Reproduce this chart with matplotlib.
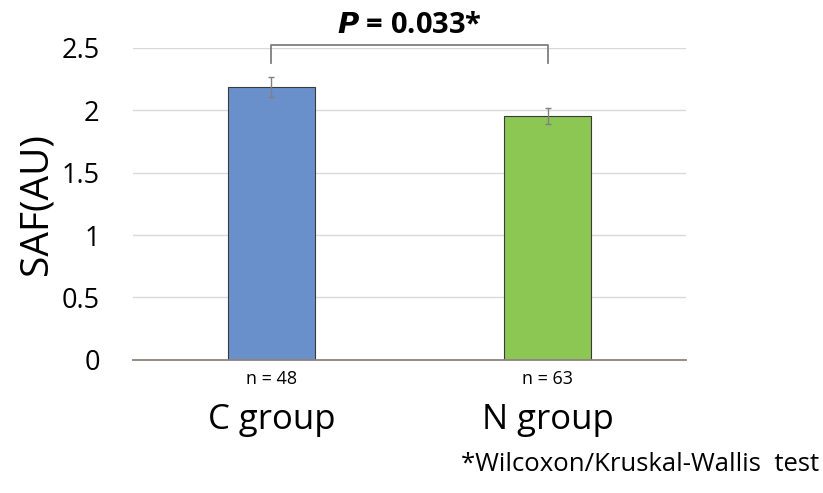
import matplotlib
matplotlib.use("Agg")
import matplotlib.pyplot as plt

# data
groups = ["C group", "N group"]
saf_mean = [2.19, 1.955]
saf_err = [0.08, 0.065]
n_labels = ["n = 48", "n = 63"]
p_label = "$\\boldsymbol{P}$ = 0.033*"
colors = ["#6a90cc", "#8cc653"]

plt.rcParams['font.family'] = ['Open Sans', 'DejaVu Sans']

fig = plt.figure(figsize=(8.23, 4.93), dpi=100)
ax = fig.add_axes([0.1616, 0.27, 0.672, 0.633])

x = list(range(len(groups)))
ax.bar(x, saf_mean, width=0.315, color=colors, edgecolor="#3a3a3a",
       linewidth=0.8, zorder=3)
ax.errorbar(x, saf_mean, yerr=saf_err, fmt="none", ecolor="#808080",
            elinewidth=1, capsize=2.5, capthick=1, zorder=4)

ax.set_xlim(-0.5, 1.5)
ax.set_ylim(0, 2.5)
ax.set_yticks([0, 0.5, 1, 1.5, 2, 2.5])
ax.set_yticklabels(["0", "0.5", "1", "1.5", "2", "2.5"])
ax.yaxis.grid(True, color="#d9d9d9", linewidth=1, zorder=0)
ax.tick_params(axis="y", length=0, pad=24, labelsize=19.5)
ax.set_xticks([])
for s in ["top", "right", "left"]:
    ax.spines[s].set_visible(False)
ax.spines["bottom"].set_color("#8c8480")
ax.spines["bottom"].set_linewidth(1.3)
ax.spines["bottom"].set_zorder(5)

ax.set_ylabel("SAF(AU)", fontsize=28, labelpad=4)

# n labels and group names under the axis
for i in x:
    ax.annotate(n_labels[i], xy=(i, 0), xytext=(0, -14), textcoords="offset points",
                ha="center", va="center", fontsize=13)
    ax.annotate(groups[i], xy=(i, 0), xytext=(0, -43), textcoords="offset points",
                ha="center", va="center", fontsize=25)

# significance bracket
ax.plot([0, 0, 1, 1], [2.38, 2.52, 2.52, 2.38], color="#7f7f7f",
        linewidth=1.3, clip_on=False)
ax.text(0.5, 2.68, p_label, ha="center", va="center", fontsize=21,
        fontweight="bold")

fig.text(0.995, 0.057, "*Wilcoxon/Kruskal-Wallis  test", ha="right", va="center",
         fontsize=18.5)

fig.savefig("out.png", dpi=100)
